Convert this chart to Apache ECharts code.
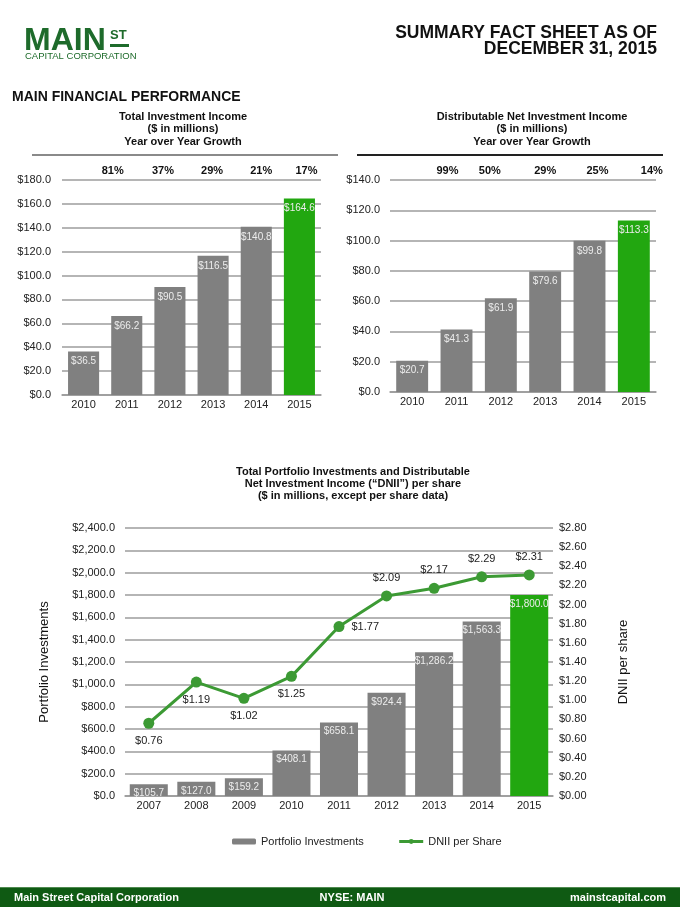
<!DOCTYPE html>
<html><head><meta charset="utf-8">
<script src="https://cdn.jsdelivr.net/npm/echarts@6/dist/echarts.min.js"></script>
<style>html,body{margin:0;padding:0;background:#fff}#c{width:680px;height:907px}</style>
</head><body><div id="c"></div>
<script>
// ---------- data ----------
const tiYears = ['2010','2011','2012','2013','2014','2015'];
const tiValues = [36.5, 66.2, 90.5, 116.5, 140.8, 164.6];
const tiGrowth = ['81%','37%','29%','21%','17%'];

const dniiYears = ['2010','2011','2012','2013','2014','2015'];
const dniiValues = [20.7, 41.3, 61.9, 79.6, 99.8, 113.3];
const dniiGrowth = ['99%','50%','29%','25%','14%'];

const pfYears = ['2007','2008','2009','2010','2011','2012','2013','2014','2015'];
const pfValues = [105.7, 127.0, 159.2, 408.1, 658.1, 924.4, 1286.2, 1563.3, 1800.0];
const dpsValues = [0.76, 1.19, 1.02, 1.25, 1.77, 2.09, 2.17, 2.29, 2.31];

// ---------- layout / style ----------
const FONT = '"Liberation Sans", Arial, Helvetica, sans-serif';
const GRAY = '#808080';
const GREEN = '#22a710';
const LINEGREEN = '#3c9a34';
const DARKGREEN = '#1e6b2b';
const tiGrowthDx = [-14, -7, -1, 5, 7];
const dniiGrowthDx = [-9, -11, 0, 8, 18];
const dpsLabelPos = ['bottom','bottom','bottom','bottom','right','top','top','top','top'];

function money1(v){ return '$' + v.toLocaleString('en-US',{minimumFractionDigits:1, maximumFractionDigits:1}); }
function withLastGreen(arr){
  return arr.map((v,i)=> i === arr.length-1 ? {value:v, itemStyle:{color:GREEN}} : v);
}

const chart = echarts.init(document.getElementById('c'), null, {renderer:'canvas'});

const xCat = (grid, data, margin) => ({
  type:'category', gridIndex:grid, data:data,
  axisLine:{show:true, lineStyle:{color:'#999', width:1.5}},
  axisTick:{show:false},
  axisLabel:{color:'#222', fontSize:11, fontFamily:FONT, margin:margin}
});
const yVal = (grid, max, interval, fmt, margin) => ({
  type:'value', gridIndex:grid, min:0, max:max, interval:interval,
  axisLine:{show:false}, axisTick:{show:false},
  splitLine:{show:true, lineStyle:{color:'#9c9c9c', width:1.5}},
  axisLabel:{color:'#222', fontSize:11, fontFamily:FONT, margin:margin, formatter:fmt}
});
const barLabel = (fmt, dist) => ({
  show:true, position:'insideTop', distance:dist, color:'#ececec',
  fontSize:10, fontFamily:FONT, formatter:(p)=>fmt(p.value)
});

const option = {
  animation:false,
  backgroundColor:'#fff',
  textStyle:{fontFamily:FONT},
  grid:[
    {left:62, right:359, top:180, bottom:512},
    {left:390, right:24, top:180, bottom:515},
    {left:125, right:127, top:528, bottom:111}
  ],
  xAxis:[ xCat(0, tiYears, 4), xCat(1, dniiYears, 4), xCat(2, pfYears, 4) ],
  yAxis:[
    yVal(0, 180, 20, (v)=>'$'+v.toFixed(1), 11),
    yVal(1, 140, 20, (v)=>'$'+v.toFixed(1), 10),
    Object.assign(yVal(2, 2400, 200, (v)=>money1(v), 10), {
      name:'Portfolio Investments', nameLocation:'middle', nameRotate:90, nameGap:74,
      nameTextStyle:{color:'#111', fontSize:13, fontFamily:FONT}
    }),
    {
      type:'value', gridIndex:2, position:'right', min:0, max:2.8, interval:0.2,
      axisLine:{show:false}, axisTick:{show:false}, splitLine:{show:false},
      axisLabel:{color:'#222', fontSize:11, fontFamily:FONT, margin:6, formatter:(v)=>'$'+v.toFixed(2)},
      name:'DNII per share', nameLocation:'middle', nameRotate:90, nameGap:64,
      nameTextStyle:{color:'#111', fontSize:13, fontFamily:FONT}
    }
  ],
  legend:{
    data:[
      {name:'Portfolio Investments'},
      {name:'DNII per Share', lineStyle:{width:3, color:LINEGREEN}}
    ],
    left:227, top:831, itemWidth:24, itemHeight:6, itemGap:34,
    textStyle:{color:'#222', fontSize:11, fontFamily:FONT}
  },
  series:[
    { type:'bar', name:'Total Investment Income', xAxisIndex:0, yAxisIndex:0, barWidth:'72%',
      itemStyle:{color:GRAY}, data:withLastGreen(tiValues), label:barLabel((v)=>'$'+v.toFixed(1),5) },
    { type:'bar', name:'DNII', xAxisIndex:1, yAxisIndex:1, barWidth:'72%',
      itemStyle:{color:GRAY}, data:withLastGreen(dniiValues), label:barLabel((v)=>'$'+v.toFixed(1),5) },
    { type:'bar', name:'Portfolio Investments', xAxisIndex:2, yAxisIndex:2, barWidth:'80%',
      itemStyle:{color:GRAY}, data:withLastGreen(pfValues), label:barLabel(money1,4) },
    { type:'line', name:'DNII per Share', xAxisIndex:2, yAxisIndex:3,
      symbol:'circle', symbolSize:11,
      lineStyle:{color:LINEGREEN, width:3}, itemStyle:{color:LINEGREEN},
      data: dpsValues.map((v,i)=>({value:v, label:{position:dpsLabelPos[i]}})),
      label:{show:true, color:'#222', fontSize:11, fontFamily:FONT, distance:7,
             formatter:(p)=>'$'+p.value.toFixed(2)}
    }
  ]
};
chart.setOption(option);

// ---------- decorative text & annotations ----------
function txt(x, y, text, font, fill, align, vAlign){
  return {type:'text', x:x, y:y, silent:true,
    style:{text:text, font:font, fill:fill||'#111', align:align||'left', textAlign:align||'left',
           verticalAlign:vAlign||'middle', textVerticalAlign:vAlign||'middle'}};
}
const B11 = 'bold 11px ' + FONT;
const g = [];
// logo
g.push(txt(24, 41, 'MAIN', 'bold 32px ' + FONT, DARKGREEN));
g.push(txt(110, 35, 'ST', 'bold 13px ' + FONT, DARKGREEN));
g.push({type:'rect', silent:true, shape:{x:110, y:44, width:19, height:3}, style:{fill:DARKGREEN}});
g.push(txt(25, 56, 'CAPITAL CORPORATION', '9.5px ' + FONT, DARKGREEN));
// header
g.push(txt(657, 33, 'SUMMARY FACT SHEET AS OF', 'bold 17.5px ' + FONT, '#111', 'right'));
g.push(txt(657, 49, 'DECEMBER 31, 2015', 'bold 17.5px ' + FONT, '#111', 'right'));
g.push(txt(12, 97, 'MAIN FINANCIAL PERFORMANCE', 'bold 14px ' + FONT, '#111'));
// chart titles
g.push(txt(183, 117, 'Total Investment Income', B11, '#111', 'center'));
g.push(txt(183, 129, '($ in millions)', B11, '#111', 'center'));
g.push(txt(183, 142, 'Year over Year Growth', B11, '#111', 'center'));
g.push({type:'rect', silent:true, shape:{x:32, y:154, width:306, height:2}, style:{fill:'#8a8a8a'}});
g.push(txt(532, 117, 'Distributable Net Investment Income', B11, '#111', 'center'));
g.push(txt(532, 129, '($ in millions)', B11, '#111', 'center'));
g.push(txt(532, 142, 'Year over Year Growth', B11, '#111', 'center'));
g.push({type:'rect', silent:true, shape:{x:357, y:154, width:306, height:2}, style:{fill:'#222'}});
g.push(txt(353, 472, 'Total Portfolio Investments and Distributable', B11, '#111', 'center'));
g.push(txt(353, 484, 'Net Investment Income (\u201cDNII\u201d) per share', B11, '#111', 'center'));
g.push(txt(353, 496, '($ in millions, except per share data)', B11, '#111', 'center'));
// growth labels
tiGrowth.forEach((t,i)=>{
  const px = chart.convertToPixel({xAxisIndex:0}, tiYears[i+1]);
  g.push(txt(px + tiGrowthDx[i], 171, t, B11, '#111', 'center'));
});
dniiGrowth.forEach((t,i)=>{
  const px = chart.convertToPixel({xAxisIndex:1}, dniiYears[i+1]);
  g.push(txt(px + dniiGrowthDx[i], 171, t, B11, '#111', 'center'));
});
// footer
g.push({type:'rect', silent:true, shape:{x:0, y:887, width:680, height:20}, style:{fill:'#0f5a13'}});
g.push({type:'rect', silent:true, shape:{x:0, y:887, width:680, height:1}, style:{fill:'#4f8a4f'}});
g.push(txt(14, 898, 'Main Street Capital Corporation', B11, '#fff'));
g.push(txt(352, 898, 'NYSE: MAIN', B11, '#fff', 'center'));
g.push(txt(666, 898, 'mainstcapital.com', B11, '#fff', 'right'));

chart.setOption({graphic:{elements:g}});
</script>
</body></html>
